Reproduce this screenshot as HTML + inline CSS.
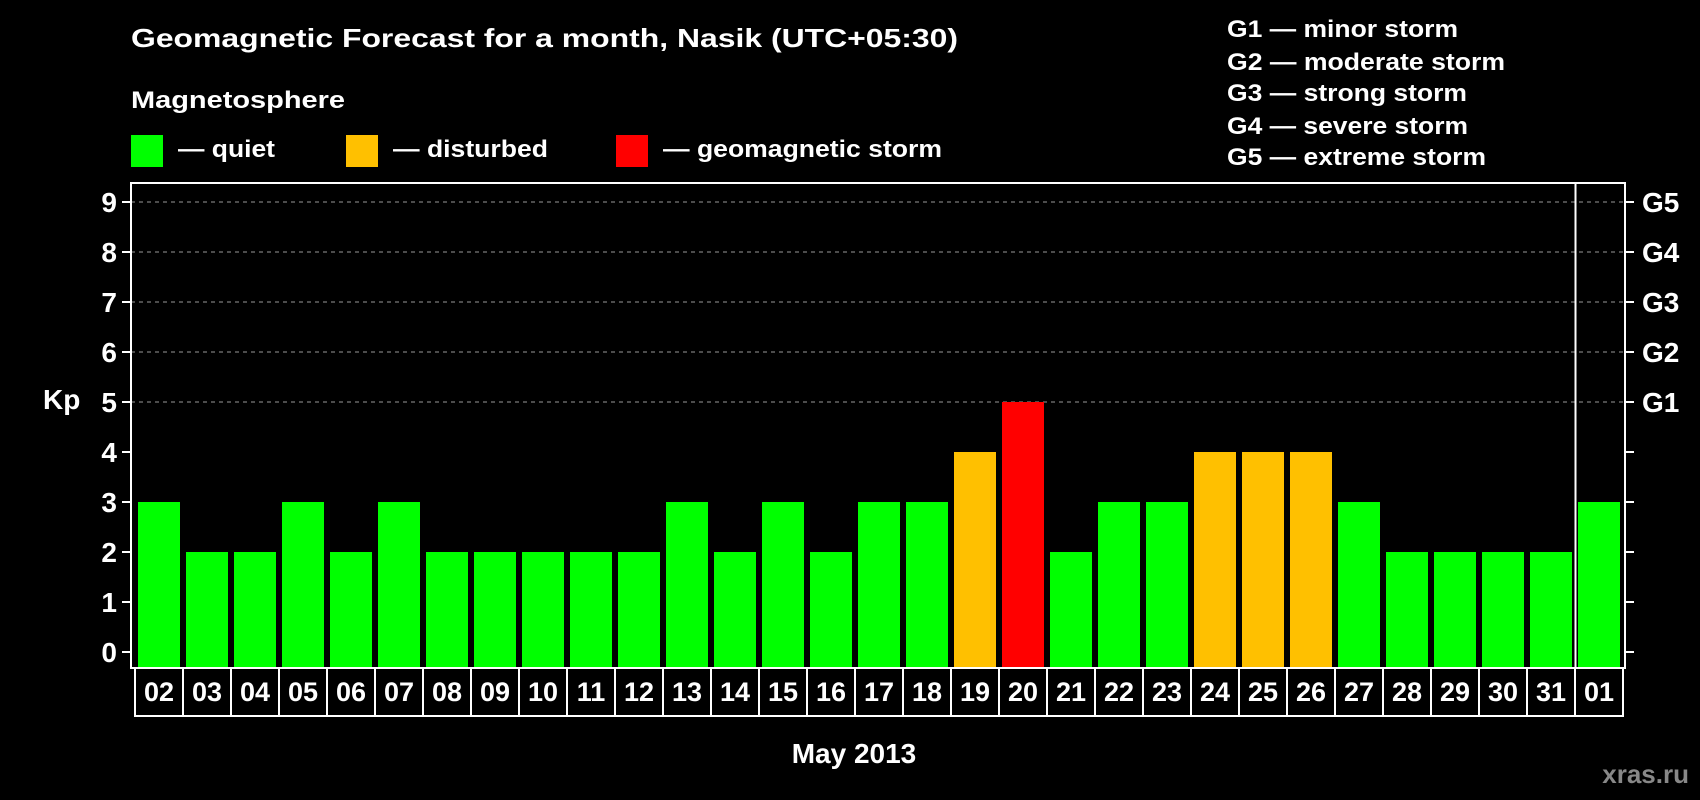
<!DOCTYPE html>
<html><head><meta charset="utf-8"><style>
html,body{margin:0;padding:0;background:#000;}
svg{display:block;font-family:"Liberation Sans",sans-serif;font-weight:bold;}
</style></head><body>
<svg id="chart" width="1700" height="800" viewBox="0 0 1700 800">
<rect width="1700" height="800" fill="#000"/>
<text x="131" y="47" fill="#fff" font-size="26" textLength="827" lengthAdjust="spacingAndGlyphs">Geomagnetic Forecast for a month, Nasik (UTC+05:30)</text>
<text x="131" y="108" fill="#fff" font-size="24" textLength="214" lengthAdjust="spacingAndGlyphs">Magnetosphere</text>
<g>
<rect x="131" y="135" width="32" height="32" fill="#00ff00"/>
<text x="178" y="157" fill="#fff" font-size="24" textLength="97" lengthAdjust="spacingAndGlyphs">— quiet</text></g>
<g>
<rect x="346" y="135" width="32" height="32" fill="#ffc000"/>
<text x="393" y="157" fill="#fff" font-size="24" textLength="155" lengthAdjust="spacingAndGlyphs">— disturbed</text></g>
<g>
<rect x="616" y="135" width="32" height="32" fill="#ff0000"/>
<text x="663" y="157" fill="#fff" font-size="24" textLength="279" lengthAdjust="spacingAndGlyphs">— geomagnetic storm</text></g>
<g fill="#fff" font-size="24">
<text x="1227" y="37" textLength="231" lengthAdjust="spacingAndGlyphs">G1 — minor storm</text>
<text x="1227" y="70" textLength="278" lengthAdjust="spacingAndGlyphs">G2 — moderate storm</text>
<text x="1227" y="101" textLength="240" lengthAdjust="spacingAndGlyphs">G3 — strong storm</text>
<text x="1227" y="134" textLength="241" lengthAdjust="spacingAndGlyphs">G4 — severe storm</text>
<text x="1227" y="165" textLength="259" lengthAdjust="spacingAndGlyphs">G5 — extreme storm</text>
</g>
<g id="grid"></g>
<g id="bars"></g>
<rect x="131" y="183" width="1494" height="485" fill="none" stroke="#fff" stroke-width="2"/>
<line x1="1575.5" y1="183" x2="1575.5" y2="668" stroke="#fff" stroke-width="2"/>
<g id="yaxis"></g>
<g id="xaxis"></g>
<text x="43" y="409" fill="#fff" font-size="28">Kp</text>
<text x="854" y="763" fill="#fff" font-size="28" text-anchor="middle">May 2013</text>
<text x="1689" y="783" fill="#888" font-size="26" text-anchor="end">xras.ru</text>
</svg>
<script>
const days = ["02","03","04","05","06","07","08","09","10","11","12","13","14","15","16","17","18","19","20","21","22","23","24","25","26","27","28","29","30","31","01"];
const kp = [3,2,2,3,2,3,2,2,2,2,2,3,2,3,2,3,3,4,5,2,3,3,4,4,4,3,2,2,2,2,3];
const yTicks = [0,1,2,3,4,5,6,7,8,9];
const gLabels = ["G1","G2","G3","G4","G5"];
const NS="http://www.w3.org/2000/svg";
const y0=652, unit=50, x0=135, pitch=48, base=668;
const yS=v=>y0-v*unit;
const xS=i=>x0+i*pitch;
function mk(t,a,p){const e=document.createElementNS(NS,t);for(const k in a)e.setAttribute(k,a[k]);p.appendChild(e);return e;}
const grid=document.getElementById('grid'),bars=document.getElementById('bars'),ya=document.getElementById('yaxis'),xa=document.getElementById('xaxis');
yTicks.forEach(v=>{
  const y=yS(v);
  if(v>=5){const g=mk('line',{x1:131,x2:1625,y1:y,y2:y,stroke:'#999','stroke-width':1,'stroke-dasharray':'4,4'},grid);
  
  }
  mk('line',{x1:122,x2:131,y1:y,y2:y,stroke:'#fff','stroke-width':2},ya);
  mk('line',{x1:1625,x2:1634,y1:y,y2:y,stroke:'#fff','stroke-width':2},ya);
  const t=mk('text',{x:117,y:y+10,fill:'#fff','font-size':28,'text-anchor':'end'},ya);
  t.textContent=v;
  
  
});
gLabels.forEach((g,i)=>{
  const t=mk('text',{x:1642,y:yS(5+i)+10,fill:'#fff','font-size':28},ya);
  t.textContent=g;
  
  
});
days.forEach((d,i)=>{
  const v=kp[i];
  const col=v>=5?'#ff0000':(v>=4?'#ffc000':'#00ff00');
  const b=mk('rect',{x:xS(i)+3,y:yS(v),width:42,height:base-yS(v),fill:col},bars);
  
  
  const bx=mk('rect',{x:xS(i),y:base,width:pitch,height:48,fill:'none',stroke:'#fff','stroke-width':2},xa);
  
  
  const t=mk('text',{x:xS(i)+pitch/2,y:701,fill:'#fff','font-size':27,'text-anchor':'middle'},xa);
  t.textContent=d;
  
  
});
</script>
</body></html>
